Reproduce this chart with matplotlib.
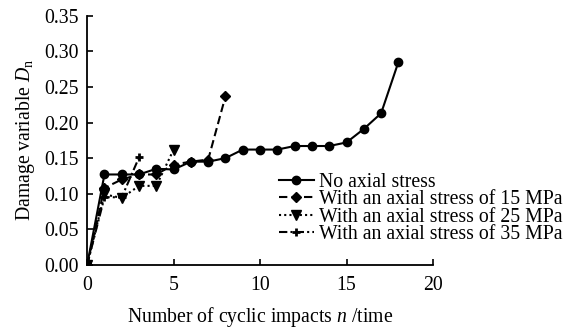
import matplotlib
matplotlib.use("Agg")
import matplotlib.pyplot as plt

plt.rcParams['font.family'] = 'Liberation Serif'
plt.rcParams['mathtext.fontset'] = 'custom'
plt.rcParams['mathtext.rm'] = 'Liberation Serif'
plt.rcParams['mathtext.it'] = 'Liberation Serif:italic'

# damage variable vs number of impacts, one list per axial stress level
n_none = [0, 1, 2, 3, 4, 5, 6, 7, 8, 9, 10, 11, 12, 13, 14, 15, 16, 17, 18]
d_none = [0, 0.127, 0.127, 0.127, 0.135, 0.134, 0.145, 0.145, 0.150, 0.162,
          0.162, 0.162, 0.167, 0.167, 0.167, 0.172, 0.191, 0.213, 0.285]

n_15 = [0, 1, 2, 3, 4, 5, 6, 7, 8]
d_15 = [0, 0.108, 0.120, 0.127, 0.127, 0.141, 0.145, 0.148, 0.237]

n_25 = [0, 1, 2, 3, 4, 5]
d_25 = [0, 0.099, 0.094, 0.111, 0.111, 0.162]

n_35 = [0, 1, 2, 3]
d_35 = [0, 0.095, 0.095, 0.151]

labels = ['No axial stress',
          'With an axial stress of 15 MPa',
          'With an axial stress of 25 MPa',
          'With an axial stress of 35 MPa']

fs = 14.2

fig = plt.figure(figsize=(5.66, 3.29), dpi=100)
ax = fig.add_axes([0.154, 0.195, 0.611, 0.757])

ax.plot(n_none, d_none, color='black', lw=1.5, marker='o', ms=6, label=labels[0])
ax.plot(n_15, d_15, color='black', lw=1.5, ls=(0, (4, 2)), marker='D', ms=5, label=labels[1])
ax.plot(n_25, d_25, color='black', lw=1.5, ls=(0, (1, 1.5)), marker='v', ms=7, label=labels[2])
ax.plot(n_35, d_35, color='black', lw=1.5, ls=(0, (4, 1.5, 1, 1.5)), marker='+', ms=6, mew=2,
        label=labels[3])

ax.set_xlim(0, 20)
ax.set_ylim(0, 0.35)
ax.set_xticks([0, 5, 10, 15, 20])
ax.set_yticks([0, 0.05, 0.10, 0.15, 0.20, 0.25, 0.30, 0.35])
ax.set_yticklabels(['%.2f' % v for v in ax.get_yticks()])
ax.tick_params(direction='in', length=4, width=1.2, labelsize=fs, colors='black')
ax.tick_params(axis='x', pad=8)
ax.tick_params(axis='y', pad=6)
for side in ['top', 'right']:
    ax.spines[side].set_visible(False)
for side in ['left', 'bottom']:
    ax.spines[side].set_linewidth(1.3)

ax.set_xlabel(r'Number of cyclic impacts $n$ /time', fontsize=fs, labelpad=7)
ax.set_ylabel(r'Damage variable $D_{\rm n}$', fontsize=fs, labelpad=5)

ax.legend(loc='center left', bbox_to_anchor=(0.555, 0.226), frameon=False, fontsize=fs,
          handlelength=1.75, handletextpad=0.27, labelspacing=-0.08, borderaxespad=0,
          borderpad=0)

fig.savefig('out.png', dpi=100)
